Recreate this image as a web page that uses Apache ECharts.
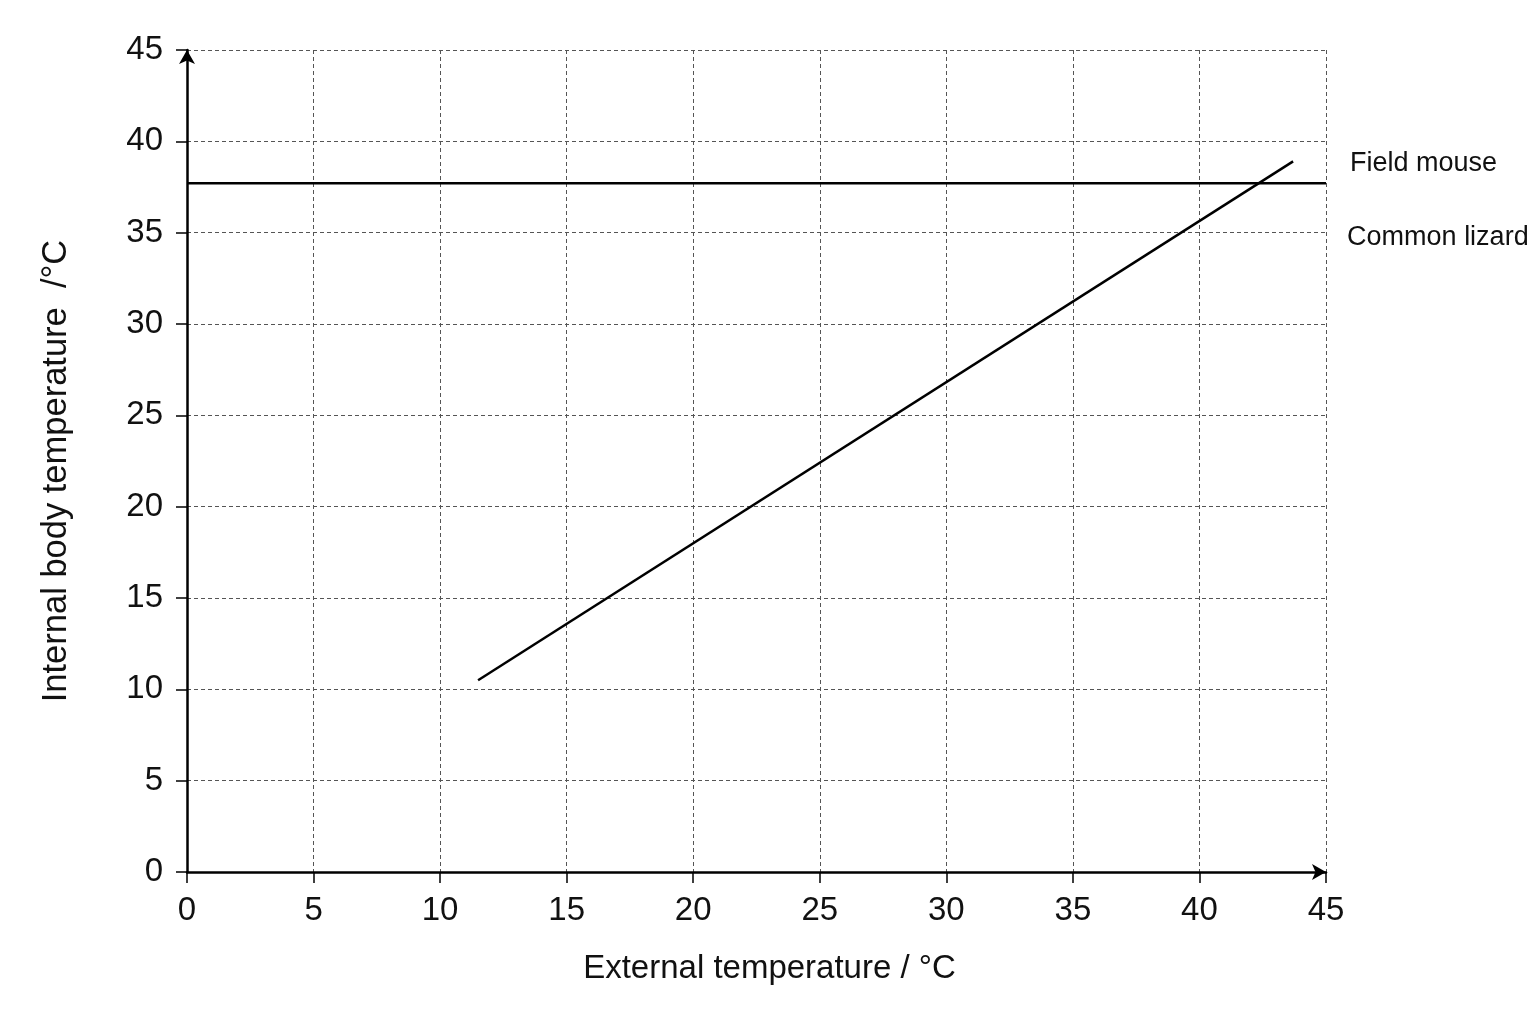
<!DOCTYPE html>
<html>
<head>
<meta charset="utf-8">
<title>Body temperature vs external temperature</title>
<script src="https://cdn.jsdelivr.net/npm/echarts@6/dist/echarts.min.js"></script>
<style>
  html, body { margin: 0; padding: 0; background: #fff; }
  #chart { width: 1536px; height: 1024px; }
</style>
</head>
<body>
<div id="chart"></div>
<script>
  // values
  var seriesNames = ['Field mouse', 'Common lizard']
  var fieldMouseX = [0, 45]
  var fieldMouseY = [37.7, 37.7]
  var lizardX = [11.5, 43.7]
  var lizardY = [10.5, 38.9]

  var axisMin = 0
  var axisMax = 45
  var axisStep = 5

  var font = 'Liberation Sans, Arial, sans-serif'

  var toPairs = function (xs, ys) {
    return xs.map(function (x, i) { return [x, ys[i]] })
  }

  var axisCommon = function () {
    return {
      type: 'value',
      min: axisMin,
      max: axisMax,
      interval: axisStep,
      nameLocation: 'middle',
      nameTextStyle: { color: '#111', fontSize: 33, fontFamily: font },
      axisLine: {
        show: true,
        symbol: ['none', 'arrow'],
        symbolSize: [12, 14],
        lineStyle: { color: '#000', width: 2.5 }
      },
      axisTick: { show: true, inside: false, length: 11, lineStyle: { color: '#000', width: 1.5 } },
      axisLabel: { color: '#111', fontSize: 33, fontFamily: font },
      splitLine: { show: true, lineStyle: { color: '#555', width: 1, type: [4, 3] } }
    }
  }

  var xAxis = axisCommon()
  xAxis.name = 'External temperature / °C'
  xAxis.nameGap = 80
  xAxis.nameTextStyle.padding = [0, 0, 0, 26]
  xAxis.axisLabel.margin = 22

  var yAxis = axisCommon()
  yAxis.name = 'Internal body temperature  /°C'
  yAxis.nameGap = 113
  yAxis.nameTextStyle.fontSize = 34.5
  yAxis.nameTextStyle.padding = [0, 20, 0, 0]
  yAxis.axisLabel.margin = 24

  var lineSeries = function (name, data, offset) {
    return {
      name: name,
      type: 'line',
      data: data,
      showSymbol: false,
      symbol: 'none',
      clip: false,
      lineStyle: { color: '#000', width: 2.5 },
      endLabel: {
        show: true,
        formatter: name,
        offset: offset,
        distance: 5,
        color: '#111',
        fontSize: 27,
        fontFamily: font
      }
    }
  }

  var chart = echarts.init(document.getElementById('chart'))

  var option = {
    backgroundColor: '#fff',
    animation: false,
    grid: { left: 187, right: 210, top: 50, bottom: 152, containLabel: false },
    xAxis: xAxis,
    yAxis: yAxis,
    series: [
      lineSeries(seriesNames[0], toPairs(fieldMouseX, fieldMouseY), [19, -20]),
      lineSeries(seriesNames[1], toPairs(lizardX, lizardY), [49, 76])
    ]
  }

  chart.setOption(option)
</script>
</body>
</html>
